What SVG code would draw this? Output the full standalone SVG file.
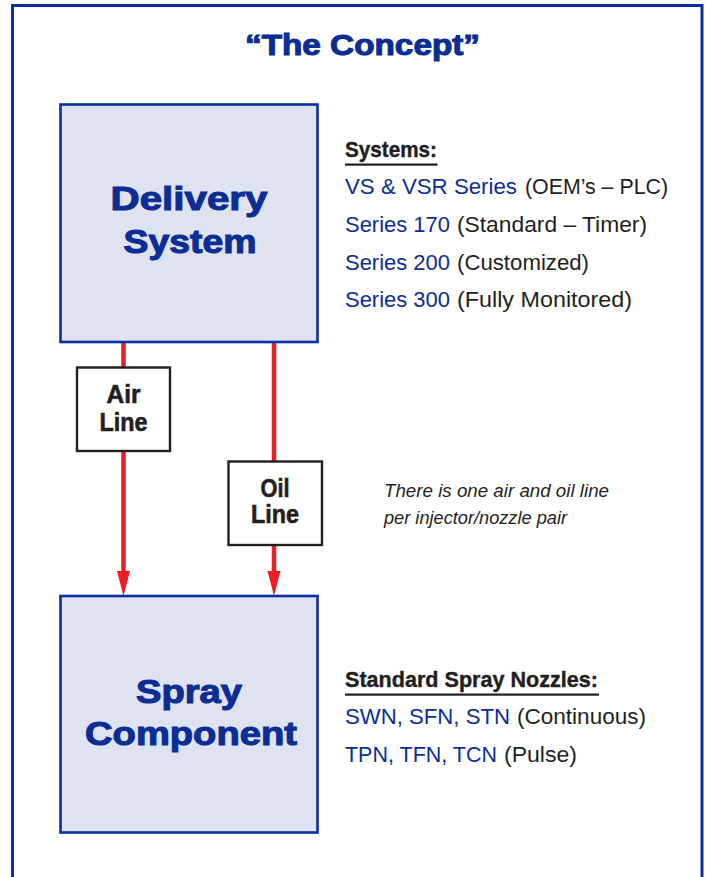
<svg xmlns="http://www.w3.org/2000/svg" width="705" height="877" viewBox="0 0 705 877">
<style>
.frame{fill:none;stroke:#0b2f9e;stroke-width:3}
.big{fill:#dfe2f1;stroke:#0b2f9e;stroke-width:2.6}
.lbl{fill:#ffffff;stroke:#231f20;stroke-width:2.4}
.conn{stroke:#ee1c25;stroke-width:4.5;fill:none}
.bt{font-family:"Liberation Sans",Arial,sans-serif;font-weight:bold;fill:#0b2d94;stroke:#0b2d94;stroke-width:1.1;text-anchor:middle}
.lt{font-family:"Liberation Sans",Arial,sans-serif;font-weight:bold;fill:#231f20;stroke:#231f20;stroke-width:0.6;text-anchor:middle;font-size:25px}
.hd{font-family:"Liberation Sans",Arial,sans-serif;font-weight:bold;fill:#231f20;stroke:#231f20;stroke-width:0.4;font-size:22px}
.bl{font-family:"Liberation Sans",Arial,sans-serif;fill:#0b2d94;font-size:22px}
.gr{font-family:"Liberation Sans",Arial,sans-serif;fill:#231f20;font-size:22px}
.it{font-family:"Liberation Sans",Arial,sans-serif;font-style:italic;fill:#231f20;font-size:19px}
</style>
<rect class="frame" x="12.5" y="5.5" width="689.5" height="880"/>
<text class="bt" x="362.5" y="54.5" font-size="30" textLength="235" lengthAdjust="spacingAndGlyphs">“The Concept”</text>
<g id="connectors">
<path class="conn" d="M123.5,343 V572"/>
<path d="M117,571 L130,571 L123.5,596 Z" fill="#ee1c25"/>
<path class="conn" d="M274,343 V572"/>
<path d="M267.5,571 L280.5,571 L274,596 Z" fill="#ee1c25"/>
</g>
<g id="delivery">
<rect class="big" x="60.5" y="104.5" width="257" height="237.5"/>
<text class="bt" x="189" y="210" font-size="34" textLength="157" lengthAdjust="spacingAndGlyphs">Delivery</text>
<text class="bt" x="190" y="253" font-size="34" textLength="133" lengthAdjust="spacingAndGlyphs">System</text>
</g>
<g id="spray">
<rect class="big" x="60.5" y="596" width="257" height="236.5"/>
<text class="bt" x="189" y="703" font-size="34" textLength="106" lengthAdjust="spacingAndGlyphs">Spray</text>
<text class="bt" x="191" y="745" font-size="34" textLength="212" lengthAdjust="spacingAndGlyphs">Component</text>
</g>
<g id="airline">
<rect class="lbl" x="77" y="367.5" width="93" height="83.5"/>
<text class="lt" x="123.5" y="402.5" textLength="34" lengthAdjust="spacingAndGlyphs">Air</text>
<text class="lt" x="123.5" y="430.5" textLength="48" lengthAdjust="spacingAndGlyphs">Line</text>
</g>
<g id="oilline">
<rect class="lbl" x="228.5" y="461.5" width="93.5" height="83.5"/>
<text class="lt" x="275" y="496.5" textLength="29" lengthAdjust="spacingAndGlyphs">Oil</text>
<text class="lt" x="275" y="522.5" textLength="48" lengthAdjust="spacingAndGlyphs">Line</text>
</g>
<g id="systems">
<text class="hd" x="345" y="157" textLength="92" lengthAdjust="spacingAndGlyphs">Systems:</text>
<rect x="345" y="163.5" width="92.5" height="2.2" fill="#231f20"/>
<text class="bl" x="345" y="193.5" textLength="172" lengthAdjust="spacingAndGlyphs">VS &amp; VSR Series</text>
<text class="gr" x="525" y="193.5" textLength="143" lengthAdjust="spacingAndGlyphs">(OEM’s – PLC)</text>
<text class="bl" x="345" y="231.5" textLength="105" lengthAdjust="spacingAndGlyphs">Series 170</text>
<text class="gr" x="457" y="231.5" textLength="190" lengthAdjust="spacingAndGlyphs">(Standard – Timer)</text>
<text class="bl" x="345" y="269.5" textLength="105" lengthAdjust="spacingAndGlyphs">Series 200</text>
<text class="gr" x="457" y="269.5" textLength="132" lengthAdjust="spacingAndGlyphs">(Customized)</text>
<text class="bl" x="345" y="306.5" textLength="105" lengthAdjust="spacingAndGlyphs">Series 300</text>
<text class="gr" x="457" y="306.5" textLength="175" lengthAdjust="spacingAndGlyphs">(Fully Monitored)</text>
</g>
<g id="note">
<text class="it" x="384" y="497" textLength="225" lengthAdjust="spacingAndGlyphs">There is one air and oil line</text>
<text class="it" x="384" y="523.5" textLength="183" lengthAdjust="spacingAndGlyphs">per injector/nozzle pair</text>
</g>
<g id="nozzles">
<text class="hd" x="345" y="686.5" textLength="253" lengthAdjust="spacingAndGlyphs">Standard Spray Nozzles:</text>
<rect x="345" y="693.5" width="254" height="2.2" fill="#231f20"/>
<text class="bl" x="345" y="724" textLength="165" lengthAdjust="spacingAndGlyphs">SWN, SFN, STN</text>
<text class="gr" x="517" y="724" textLength="129" lengthAdjust="spacingAndGlyphs">(Continuous)</text>
<text class="bl" x="345" y="761.5" textLength="152" lengthAdjust="spacingAndGlyphs">TPN, TFN, TCN</text>
<text class="gr" x="504" y="761.5" textLength="73" lengthAdjust="spacingAndGlyphs">(Pulse)</text>
</g>
</svg>
